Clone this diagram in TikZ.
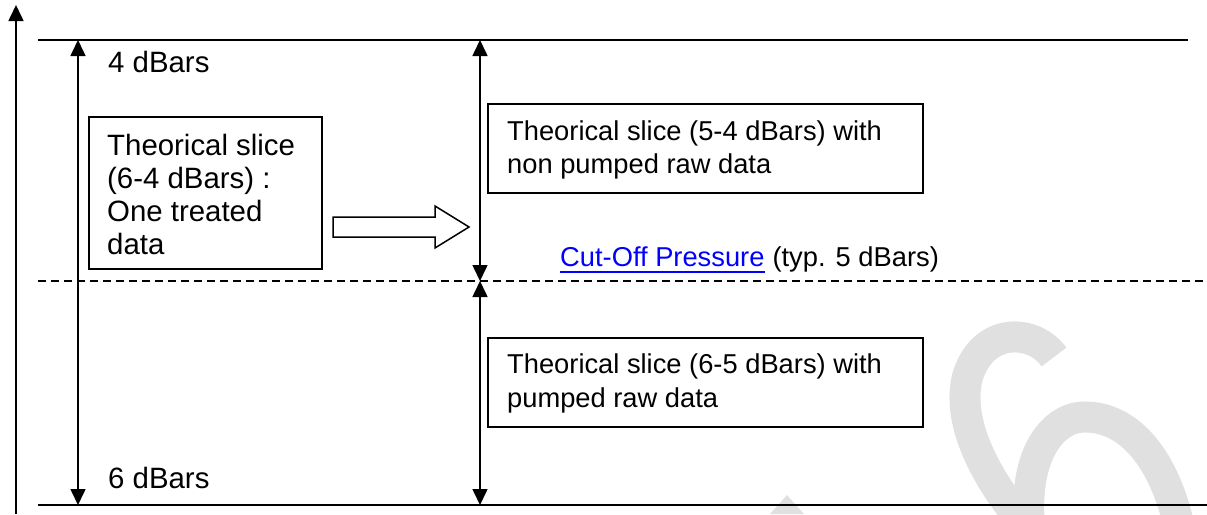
\documentclass[tikz,border=0pt]{standalone}
\usepackage{fontspec}
\setmainfont{Liberation Sans}
\usetikzlibrary{arrows.meta}
\definecolor{linkblue}{RGB}{0,0,255}
\definecolor{wmgray}{RGB}{224,224,224}
\begin{document}
\begin{tikzpicture}[x=1pt,y=-1pt,
  ln/.style={line width=1.6pt},
  tipA/.tip={Triangle[length=16pt,width=15pt]},
  arr/.style={ln,-tipA},
  darr/.style={ln,tipA-tipA},
  boxn/.style={draw,line width=1.6pt,inner sep=0pt,anchor=north west},
  txt/.style={anchor=base west,inner sep=0pt,font=\fontsize{27.3}{33}\selectfont},
  lbl/.style={anchor=base west,inner sep=0pt,font=\fontsize{29.4}{35}\selectfont},
  wm/.style={line width=31pt,draw=wmgray}]
\useasboundingbox (0,0) rectangle (1207,514);
% watermark
\begin{scope}
\clip (0,0) rectangle (1207,514);
\draw[wm] (1054,357) .. controls (1035,330) and (985,325) .. (968,375) .. controls (955,420) and (985,480) .. (1030,530);
\draw[wm] (1030,530) .. controls (1022,460) and (1050,417) .. (1085,417) .. controls (1130,417) and (1165,460) .. (1180,530);
\fill[wmgray] (770,514) -- (787,495) -- (804,514) -- cycle;
\end{scope}
% coordinates
\coordinate (topL) at (38,40);
\coordinate (topR) at (1188,40);
\coordinate (botL) at (38,505);
\coordinate (botR) at (1207,505);
\coordinate (cutL) at (38,281);
\coordinate (cutR) at (1207,281);
\coordinate (ax0) at (16,514);
\coordinate (ax1) at (16,5);
\coordinate (l0) at (78,40);
\coordinate (l1) at (78,505);
\coordinate (m0) at (480,40);
\coordinate (m1) at (480,281);
\coordinate (m2) at (480,505);
% lines
\draw[ln] (topL) -- (topR);
\draw[ln] (botL) -- (botR);
\draw[line width=1.4pt,dash pattern=on 8pt off 5pt] (cutL) -- (cutR);
% arrows
\draw[arr] (ax0) -- (ax1);
\draw[darr] (l0) -- (l1);
\draw[darr] (m0) -- (m1);
\draw[darr] (m1) -- (m2);
% labels
\node[lbl] (p4) at (108,72) {4 dBars};
\node[lbl] (p6) at (108,488) {6 dBars};
% left box
\node[boxn,minimum width=233pt,minimum height=152pt] (lbox) at (88,116) {};
\node[lbl] (lt1) at (107,155) {Theorical slice};
\node[lbl] (lt2) at (107,188) {(6-4 dBars) :};
\node[lbl] (lt3) at (107,221) {One treated};
\node[lbl] (lt4) at (107,254) {data};
% block arrow
\draw[line width=1.5pt,fill=white] (333,217) -- (435,217) -- (435,206) -- (469,227) -- (435,248) -- (435,237) -- (333,237) -- cycle;
% upper right box
\node[boxn,minimum width=435pt,minimum height=89pt] (ubox) at (487,103) {};
\node[txt] (ut1) at (507,140) {Theorical slice (5-4 dBars) with};
\node[txt] (ut2) at (507,173) {non pumped raw data};
% cut-off label
\node[txt,text=linkblue] (cut) at (560,266) {Cut-Off Pressure};
\draw[linkblue,line width=2pt] ([yshift=-6pt]cut.base west) -- ([yshift=-6pt]cut.base east);
\node[txt] (typ) at ([xshift=7.6pt]cut.base east) {(typ. 5 dBars)};
% lower right box
\node[boxn,minimum width=435pt,minimum height=89pt] (dbox) at (487,337) {};
\node[txt] (dt1) at (507,373) {Theorical slice (6-5 dBars) with};
\node[txt] (dt2) at (507,407) {pumped raw data};
\end{tikzpicture}
\end{document}
